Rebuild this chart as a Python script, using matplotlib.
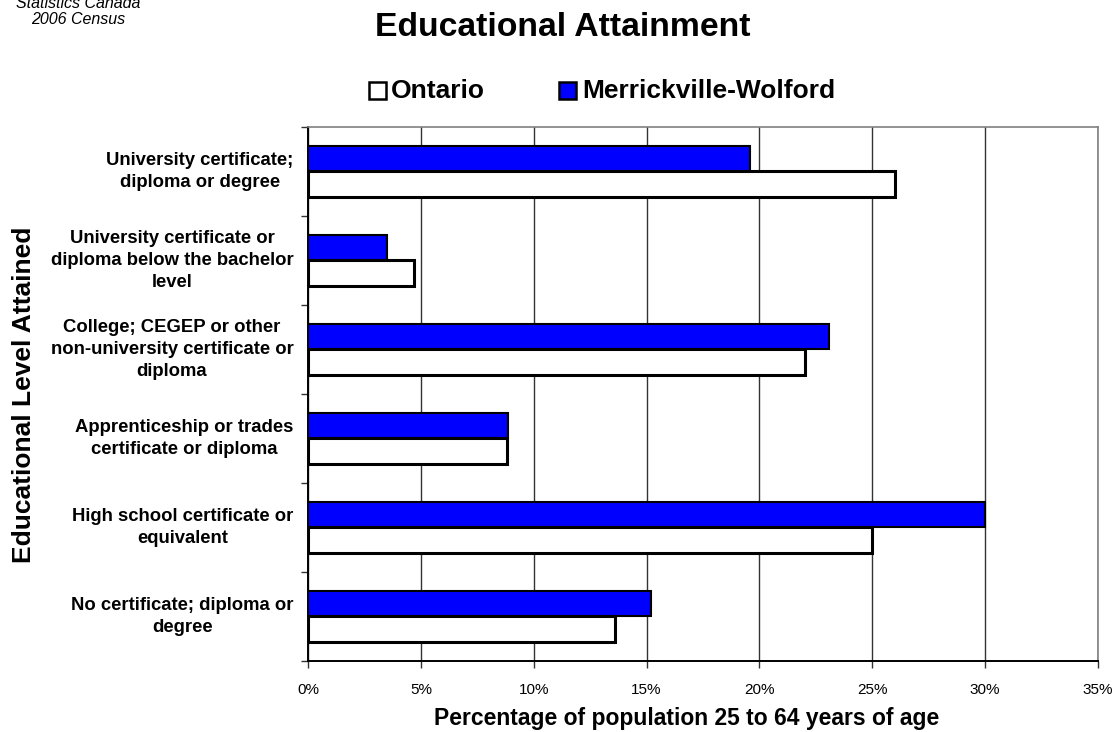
import matplotlib
matplotlib.use("Agg")
import matplotlib.pyplot as plt
from matplotlib.ticker import FuncFormatter
from matplotlib.patches import Rectangle
import numpy as np

plt.rcParams['font.family'] = ['Liberation Sans', 'DejaVu Sans']

categories = [
    "University certificate;\ndiploma or degree",
    "University certificate or\ndiploma below the bachelor\nlevel",
    "College; CEGEP or other\nnon-university certificate or\ndiploma",
    "Apprenticeship or trades\ncertificate or diploma",
    "High school certificate or\nequivalent",
    "No certificate; diploma or\ndegree",
]
ontario = [26.0, 4.7, 22.0, 8.8, 25.0, 13.6]
merrickville = [19.6, 3.5, 23.1, 8.85, 30.0, 15.2]
series_names = ["Ontario", "Merrickville-Wolford"]
series_colors = ["white", "#0000FF"]
x_ticks = [0, 5, 10, 15, 20, 25, 30, 35]

W, H = 1117, 732
fig = plt.figure(figsize=(W / 100, H / 100), dpi=100)
ax = fig.add_axes([308 / W, 1 - 661 / H, (1098 - 308) / W, (661 - 127) / H])

n = len(categories)
pos = np.arange(n)[::-1].astype(float)  # first category at the top
h = 0.289

ax.barh(pos + h / 2, merrickville, height=h, color=series_colors[1],
        edgecolor="black", linewidth=1.5, zorder=3)
ax.barh(pos - h / 2, ontario, height=h, color=series_colors[0],
        edgecolor="black", linewidth=2.2, zorder=3)

ax.set_xlim(0, 35)
ax.set_ylim(-0.5, n - 0.5)
ax.set_xticks(x_ticks)
ax.xaxis.set_major_formatter(FuncFormatter(lambda v, p: f"{v:.0f}%"))
ax.grid(axis="x", color="#333333", linewidth=1.0, zorder=0)

# category tick marks sit on the boundaries between groups
ax.set_yticks(np.arange(-0.5, n, 1.0))
ax.set_yticklabels([])
ax.tick_params(axis="y", length=5, width=1, color="#333333", direction="out")
for p, lab in zip(pos, categories):
    ax.text(-0.0185, p, lab, transform=ax.get_yaxis_transform(),
            ha="right", va="center", multialignment="center",
            fontsize=13.3, fontweight="bold", linespacing=1.42)

ax.tick_params(axis="x", length=5, width=1, color="#333333", direction="out",
               labelsize=11, pad=11)

for side in ("top", "right"):
    ax.spines[side].set_color("#808080")
    ax.spines[side].set_linewidth(1.2)
for side in ("left", "bottom"):
    ax.spines[side].set_color("black")
    ax.spines[side].set_linewidth(1.4)

fig.text(687 / W, 1 - 719 / H, "Percentage of population 25 to 64 years of age",
         ha="center", va="center", fontsize=16.5, fontweight="bold")

fig.text(24 / W, 1 - 395 / H, "Educational Level Attained",
         rotation=90, ha="center", va="center", fontsize=19, fontweight="bold")

fig.text(563 / W, 1 - 28 / H, "Educational Attainment",
         ha="center", va="center", fontsize=24.3, fontweight="bold")

fig.text(78 / W, 1 - 3 / H, "Statistics Canada",
         ha="center", va="center", fontsize=11.5, style="italic")
fig.text(78 / W, 1 - 19 / H, "2006 Census",
         ha="center", va="center", fontsize=11.5, style="italic")

# legend: square swatch followed by the series name
legend_sq = [369, 559]
legend_txt = [391, 582]
for sx, tx, name, col in zip(legend_sq, legend_txt, series_names, series_colors):
    fig.add_artist(Rectangle((sx / W, 1 - 99 / H), 17 / W, 17 / H,
                             transform=fig.transFigure, facecolor=col,
                             edgecolor="black", linewidth=1.8))
    fig.text(tx / W, 1 - 91 / H, name, ha="left", va="center",
             fontsize=19, fontweight="bold")

fig.savefig("out.png", dpi=100)
